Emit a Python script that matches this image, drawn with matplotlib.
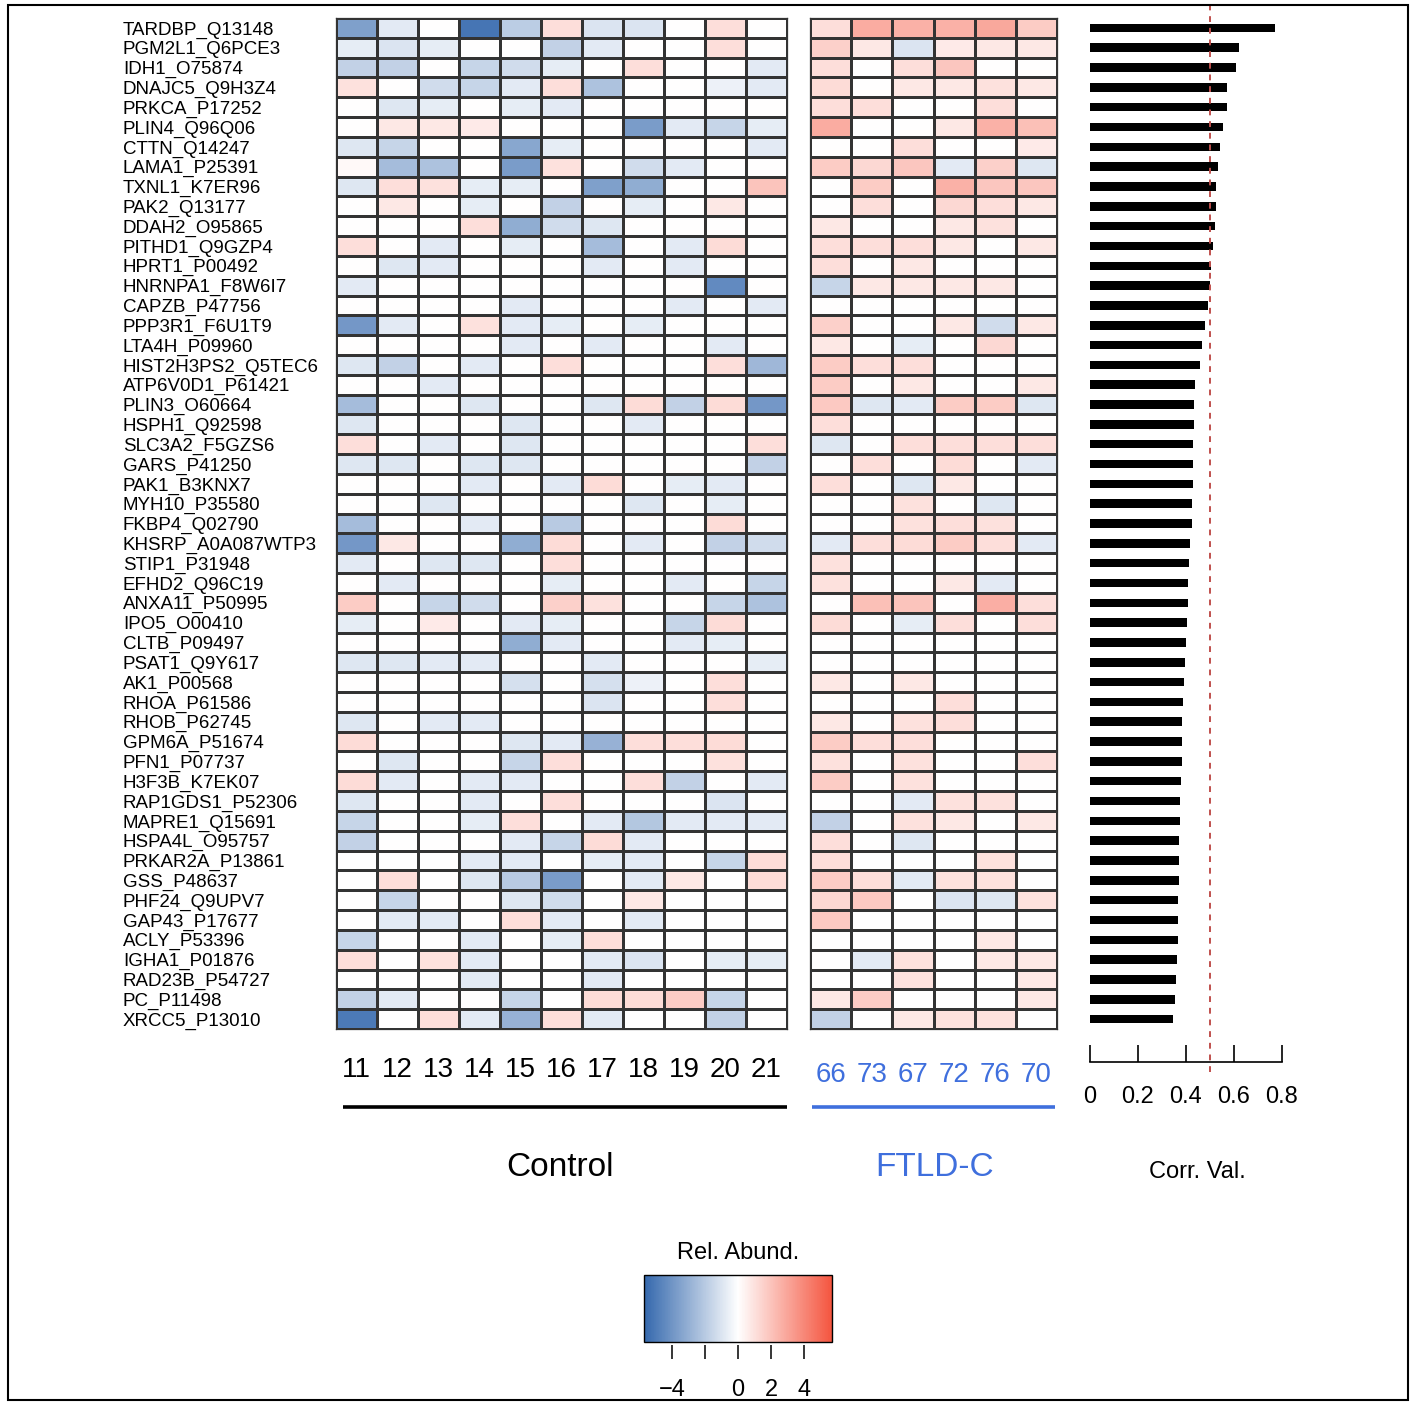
import numpy as np
import matplotlib
matplotlib.use("Agg")
import matplotlib.pyplot as plt
from matplotlib.colors import LinearSegmentedColormap, Normalize
from matplotlib.patches import Rectangle
from matplotlib.cm import ScalarMappable
import matplotlib.transforms as mtransforms

plt.rcParams['font.family'] = ['Liberation Sans', 'DejaVu Sans']

proteins = [
    "TARDBP_Q13148", "PGM2L1_Q6PCE3", "IDH1_O75874", "DNAJC5_Q9H3Z4", "PRKCA_P17252",
    "PLIN4_Q96Q06", "CTTN_Q14247", "LAMA1_P25391", "TXNL1_K7ER96", "PAK2_Q13177",
    "DDAH2_O95865", "PITHD1_Q9GZP4", "HPRT1_P00492", "HNRNPA1_F8W6I7", "CAPZB_P47756",
    "PPP3R1_F6U1T9", "LTA4H_P09960", "HIST2H3PS2_Q5TEC6", "ATP6V0D1_P61421", "PLIN3_O60664",
    "HSPH1_Q92598", "SLC3A2_F5GZS6", "GARS_P41250", "PAK1_B3KNX7", "MYH10_P35580",
    "FKBP4_Q02790", "KHSRP_A0A087WTP3", "STIP1_P31948", "EFHD2_Q96C19", "ANXA11_P50995",
    "IPO5_O00410", "CLTB_P09497", "PSAT1_Q9Y617", "AK1_P00568", "RHOA_P61586",
    "RHOB_P62745", "GPM6A_P51674", "PFN1_P07737", "H3F3B_K7EK07", "RAP1GDS1_P52306",
    "MAPRE1_Q15691", "HSPA4L_O95757", "PRKAR2A_P13861", "GSS_P48637", "PHF24_Q9UPV7",
    "GAP43_P17677", "ACLY_P53396", "IGHA1_P01876", "RAD23B_P54727", "PC_P11498",
    "XRCC5_P13010",
]

control_samples = ["11", "12", "13", "14", "15", "16", "17", "18", "19", "20", "21"]
ftld_samples = ["66", "73", "67", "72", "76", "70"]

control_values = [
    [-3.6, -0.8, 0, -5.2, -1.9, 1.1, -1.0, -1.0, 0, 1.1, 0],
    [-0.7, -1.0, -0.7, 0, 0, -1.7, -0.8, 0, 0, 1.1, 0],
    [-1.7, -1.7, 0, -1.6, -1.3, -0.7, 0, 1.1, 0, 0, -0.8],
    [1.0, 0, -1.3, -1.6, -0.8, 1.1, -2.3, 0, 0, -0.5, -0.8],
    [0, -0.9, -0.7, 0, -0.7, -0.8, 0, 0, 0, 0, 0],
    [0, 0.8, 0.8, 0.7, 0, 0, 0, -3.7, -0.8, -1.6, -0.7],
    [-0.9, -1.6, 0, 0, -3.3, -0.7, 0, 0, 0, 0, -0.8],
    [0.2, -2.5, -2.3, 0, -3.7, 1.0, 0, -1.3, -0.8, 0, 0],
    [-0.9, 1.1, 1.0, -0.7, -0.7, 0, -3.6, -3.1, 0, 0, 2.0],
    [0, 0.8, 0, -0.7, 0, -1.7, 0, -0.7, 0, 0.8, 0],
    [0, 0, 0, 1.1, -3.1, -1.3, -0.9, 0, 0, 0, 0],
    [1.1, 0, -0.8, 0, -0.7, 0, -2.5, 0, -0.8, 1.2, 0],
    [0, -0.9, -0.8, 0, 0, 0, -0.8, 0, -0.8, 0, 0],
    [-0.8, 0, 0, 0, 0, 0, 0, 0, 0, -4.4, 0],
    [0, 0, 0, 0, -0.8, 0, 0, 0, -0.8, 0, -0.8],
    [-3.9, -0.8, 0, 1.0, -0.8, -0.7, 0, -0.7, 0, 0, 0],
    [0, 0, 0, 0, -0.8, 0, -0.8, 0, 0, -0.8, 0],
    [-0.9, -1.7, 0, -0.8, 0, 1.1, 0, 0, 0, 1.1, -2.7],
    [0, 0, -0.8, 0, 0, 0, 0, 0, 0, 0, 0],
    [-2.5, 0, 0, -0.9, 0, 0, -0.9, 1.2, -1.7, 1.2, -3.9],
    [-0.9, 0, 0, 0, -0.9, 0, 0, -0.8, 0, 0, 0],
    [1.1, 0, -0.8, 0, -0.9, 0, 0, 0, 0, 0, 1.1],
    [-0.9, -0.9, 0, -0.9, -0.9, 0, 0, 0, 0, 0, -1.7],
    [0, 0, 0, -0.8, 0, -0.8, 1.2, 0, -0.7, -0.8, 0],
    [0, 0, -0.9, 0, 0, 0, 0, -0.9, 0, -0.7, 0],
    [-2.5, 0, 0, -0.8, 0, -2.0, 0, 0, 0, 1.2, 0],
    [-3.9, 0.8, 0, 0, -3.1, 1.2, 0, -0.8, 0, -1.7, -1.3],
    [-0.8, 0, -0.9, -0.9, 0, 1.1, 0, 0, 0, 0, 0],
    [0, -0.8, 0, 0, 0, -0.7, 0, 0, -0.8, 0, -1.6],
    [1.7, 0, -1.6, -1.3, 0, 1.6, 1.0, 0, 0, -1.6, -2.3],
    [-0.7, 0, 0.7, 0, -0.8, -0.7, 0, 0, -1.6, 1.2, 0],
    [0, 0, 0, 0, -3.1, -0.8, 0, 0, -0.8, -0.7, 0],
    [-0.9, -0.9, -0.8, -0.8, 0, 0, -0.8, 0, 0, 0, -0.7],
    [0, 0, 0, 0, -1.2, 0, -1.2, -0.5, 0, 1.1, 0],
    [0, 0, 0, 0, 0, 0, -1.0, 0, 0, 1.1, 0],
    [-0.9, 0, -0.8, -0.8, 0, 0, 0, 0, 0, 0, 0],
    [1.2, 0, 0, 0, -0.9, -0.8, -2.9, 1.1, 1.1, 1.2, 0],
    [0, -0.9, 0, 0, -1.6, 1.1, 0, 0, 0, 1.0, 0],
    [1.2, -0.8, 0, -0.8, -0.8, 0, 0, 1.1, -1.7, 0, -0.8],
    [-0.9, 0, 0, -0.8, 0, 1.1, 0, 0, 0, -1.0, 0],
    [-1.6, 0, 0, -0.7, 1.1, 0, -0.8, -2.1, -0.8, -0.8, -0.8],
    [-1.7, 0, 0, 0, -0.8, -1.6, 1.2, -0.8, 0, 0, 0],
    [0, 0, 0, -0.8, -0.8, 0, -0.7, -0.8, 0, -1.6, 1.2],
    [0, 1.1, 0, -0.9, -2.0, -3.7, 0, -0.8, 0.8, 0, 1.2],
    [0, -1.6, 0, 0, -0.9, -1.3, 0, 0.8, 0, 0, 0],
    [0, -0.8, -0.8, 0, 1.1, -0.8, 0, -0.8, 0, 0, 0],
    [-1.6, 0, 0, -0.8, 0, -0.7, 1.1, 0, 0, 0, 0],
    [1.1, 0, 1.0, -0.8, 0, 0, -0.8, -1.0, 0, -0.7, -0.7],
    [0, 0, 0, -0.8, 0, 0, -0.8, 0, 0, 0, 0],
    [-1.7, -0.8, 0, 0, -1.6, 0, 1.2, 1.2, 1.7, -1.6, 0],
    [-5.0, 0, 1.1, -0.8, -2.9, 1.1, -0.8, 0, 0, -1.7, 0],
]

ftld_values = [
    [1.1, 2.8, 2.6, 2.6, 2.9, 1.7],
    [1.6, 0.8, -1.0, 0.7, 0.8, 0.8],
    [1.1, 0, 1.1, 1.9, 0, 0],
    [1.2, 0, 0.8, 0.8, 1.0, 0.8],
    [1.1, 1.1, 0, 0, 1.1, 0],
    [2.8, 0, 0, 0.8, 2.6, 2.1],
    [0, 0, 1.1, 0, 0, 0.7],
    [1.7, 1.3, 1.9, -0.8, 1.6, -0.9],
    [0, 1.7, 0, 2.6, 1.9, 1.9],
    [0, 1.1, 0, 1.3, 1.1, 0.8],
    [0.8, 0, 0, 0.8, 1.0, 0],
    [1.1, 1.1, 1.1, 0.8, 0, 0.8],
    [1.1, 0, 0.8, 0, 0, 0],
    [-1.6, 0.8, 0.8, 0.8, 0.8, 0],
    [0, 0, 0, 0, 0, 0],
    [1.6, 0, 0, 0.8, -1.3, 0.8],
    [0.8, 0, -0.7, 0, 1.3, 0],
    [1.7, 1.1, 1.1, 0, 0, 0],
    [1.7, 0, 0.8, 0, 0, 0.8],
    [1.8, -0.9, -0.8, 1.7, 1.7, -0.9],
    [1.1, 0, 0, 0, 0, 0],
    [-0.9, 0, 1.1, 1.1, 1.1, 1.1],
    [0, 1.1, 0, 1.2, 0, -0.8],
    [1.1, 0, -0.9, 0.8, 0, 0],
    [0, 0, 1.0, 0, -0.9, 0],
    [0, 0, 1.0, 1.1, 1.0, 0],
    [-0.8, 1.1, 1.2, 1.7, 1.1, -0.8],
    [1.0, 0, 0, 0, 0, 0],
    [1.0, 0, 0, 0.8, -0.8, 0],
    [0, 2.1, 2.0, 0, 2.7, 1.1],
    [1.2, 0, -0.7, 1.1, 0, 1.1],
    [0, 0, 0, 0, 0, 0],
    [0, 0, 0, 0, 0, 0],
    [0.8, 0, 0.8, 0, 0, 0],
    [0, 0, 0, 1.1, 0, 0],
    [0.8, 0, 1.0, 1.1, 0, 0],
    [1.7, 1.1, 1.1, 0, 0, 0],
    [1.0, 0, 1.0, 0, 0, 1.1],
    [1.7, 0, 1.0, 0, 0, 0],
    [0, 0, -0.8, 1.0, 1.0, 0],
    [-1.7, 0, 1.0, 0.8, 0, 0.8],
    [1.1, 0, -0.9, 0, 0, 0],
    [1.1, 0, 0, 0, 1.0, 0],
    [1.7, 1.1, -0.8, 1.0, 1.0, 0],
    [1.3, 1.8, 0, -1.0, -0.9, 1.0],
    [1.8, 0, 0, 0, 0, 0],
    [0, 0, 0, 0, 0.8, 0],
    [0, -0.8, 1.0, 0, 0.8, 0.8],
    [0, 0, 1.0, 0, 0, 0.8],
    [0.8, 1.7, 0, 0, 0, 0.8],
    [-1.7, 0, 0.8, 1.0, 1.0, 0],
]

corr_values = [
    0.77, 0.62, 0.607, 0.57, 0.57, 0.553, 0.54, 0.535, 0.524, 0.524,
    0.52, 0.514, 0.506, 0.502, 0.49, 0.48, 0.468, 0.457, 0.437, 0.435,
    0.433, 0.43, 0.43, 0.428, 0.426, 0.425, 0.415, 0.414, 0.41, 0.408,
    0.404, 0.40, 0.397, 0.393, 0.386, 0.385, 0.384, 0.383, 0.38, 0.376,
    0.375, 0.372, 0.371, 0.37, 0.368, 0.367, 0.365, 0.363, 0.36, 0.356,
    0.344,
]
corr_threshold = 0.5
corr_ticks = [0, 0.2, 0.4, 0.6, 0.8]
corr_ticklabels = ["0", "0.2", "0.4", "0.6", "0.8"]

colorbar_ticks = [-4, -2, 0, 2, 4]
colorbar_ticklabels = ["\u22124", "", "0", "2", "4"]
colorbar_range = (-5.7, 5.7)

W, H = 1414, 1403
fig = plt.figure(figsize=(W / 100, H / 100), dpi=100)


def px_axes(x0, y0, x1, y1):
    return fig.add_axes([x0 / W, 1 - y1 / H, (x1 - x0) / W, (y1 - y0) / H])


cmap = LinearSegmentedColormap.from_list("relab", ["#3468AD", "#FFFFFF", "#F4553F"])
norm = Normalize(*colorbar_range)

n = len(proteins)
TOP, BOT = 18, 1029
GRID = "#333333"
BLUE = "#3F6FDD"

C = np.array(control_values)
F = np.array(ftld_values)

ax1 = px_axes(336, TOP, 787, BOT)
ax1.pcolormesh(np.arange(C.shape[1] + 1), np.arange(n + 1), C, cmap=cmap, norm=norm,
               edgecolors=GRID, linewidth=0.75)
ax1.set_xlim(0, C.shape[1])
ax1.set_ylim(n, 0)
ax1.set_xticks(np.arange(C.shape[1]) + 0.5, control_samples)
ax1.set_yticks(np.arange(n) + 0.5, proteins)
ax1.tick_params(axis='x', length=0, pad=20.5, labelsize=20)
ax1.tick_params(axis='y', length=0, pad=153.4, labelsize=13.5)
for lab in ax1.get_yticklabels():
    lab.set_horizontalalignment('left')
for s in ax1.spines.values():
    s.set_color(GRID)
    s.set_linewidth(0.9)

ax2 = px_axes(810, TOP, 1057, BOT)
ax2.pcolormesh(np.arange(F.shape[1] + 1), np.arange(n + 1), F, cmap=cmap, norm=norm,
               edgecolors=GRID, linewidth=0.75)
ax2.set_xlim(0, F.shape[1])
ax2.set_ylim(n, 0)
ax2.set_xticks(np.arange(F.shape[1]) + 0.5, ftld_samples)
ax2.set_yticks([])
ax2.tick_params(axis='x', length=0, pad=23.5, labelsize=20, labelcolor=BLUE)
for s in ax2.spines.values():
    s.set_color(GRID)
    s.set_linewidth(0.9)

# group underlines
line_y = (BOT - 1107) / (BOT - TOP)
tr1 = mtransforms.blended_transform_factory(ax1.transData, ax1.transAxes)
ax1.plot([0.17, C.shape[1]], [line_y, line_y], color="black", lw=2.6, transform=tr1,
         clip_on=False, solid_capstyle='butt')
tr2 = mtransforms.blended_transform_factory(ax2.transData, ax2.transAxes)
ax2.plot([0.05, F.shape[1] - 0.05], [line_y, line_y], color=BLUE, lw=2.6, transform=tr2,
         clip_on=False, solid_capstyle='butt')

# correlation bars
ax3 = px_axes(1090, TOP, 1282, BOT)
ax3.barh(np.arange(n) + 0.5, corr_values, height=0.43, color="black")
ax3.set_xlim(0, 0.8)
ax3.set_ylim(n, 0)
ax3.set_yticks([])
for k in ['left', 'top', 'right']:
    ax3.spines[k].set_visible(False)
ax3.spines['bottom'].set_position(('outward', 23.8))
ax3.spines['bottom'].set_linewidth(1.2)
ax3.set_xticks(corr_ticks, corr_ticklabels)
ax3.tick_params(axis='x', direction='in', length=12, width=1.2, pad=17, labelsize=17)
ax3.axvline(corr_threshold, ymin=-0.043, ymax=1.013, color="#C0504D", ls=(0, (3, 3)),
            lw=1.4, clip_on=False)

fig.text(560 / W, 1 - 1167 / H, "Control", ha='center', va='center', fontsize=24)
fig.text(935 / W, 1 - 1167 / H, "FTLD-C", ha='center', va='center', fontsize=24, color=BLUE)
fig.text(1197 / W, 1 - 1172 / H, "Corr. Val.", ha='center', va='center', fontsize=17)

# colour legend
cax = px_axes(644, 1275, 832, 1342)
cb = fig.colorbar(ScalarMappable(norm=norm, cmap=cmap), cax=cax, orientation='horizontal')
cb.set_ticks(colorbar_ticks, labels=colorbar_ticklabels)
cax.spines['bottom'].set_position(('outward', 2.5))
cax.tick_params(length=10, width=1.1, pad=14, labelsize=17)
cb.outline.set_linewidth(1.0)
cb.outline.set_edgecolor("black")
fig.text(738 / W, 1 - 1253 / H, "Rel. Abund.", ha='center', va='center', fontsize=17)

fig.patches.append(Rectangle((8 / W, 1 - 1400 / H), 1400 / W, 1395 / H,
                             transform=fig.transFigure, fill=False, ec='black', lw=1.5))

fig.savefig("out.png", dpi=100)
